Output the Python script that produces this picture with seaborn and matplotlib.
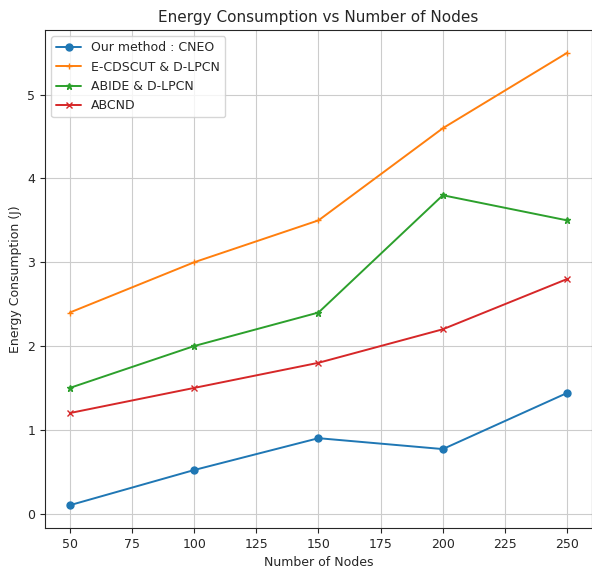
import matplotlib
matplotlib.use("Agg")
import matplotlib.pyplot as plt
import seaborn as sns
import pandas as pd

nodes = [50, 100, 150, 200, 250]
cneo = [0.1, 0.52, 0.9, 0.77, 1.44]
ecdscut = [2.4, 3.0, 3.5, 4.6, 5.5]
abide = [1.5, 2.0, 2.4, 3.8, 3.5]
abcnd = [1.2, 1.5, 1.8, 2.2, 2.8]
labels = ["Our method : CNEO", "E-CDSCUT & D-LPCN", "ABIDE & D-LPCN", "ABCND"]
markers = ["o", "+", "*", "x"]
colors = ["#1f77b4", "#ff7f0e", "#2ca02c", "#d62728"]

sns.set_style("ticks")
plt.rcParams['font.family'] = ['DejaVu Sans']

rows = []
for lab, vals in zip(labels, [cneo, ecdscut, abide, abcnd]):
    for n, v in zip(nodes, vals):
        rows.append({"Nodes": n, "Energy": v, "Method": lab})
df = pd.DataFrame(rows)

fig, ax = plt.subplots(figsize=(5.92, 5.7), dpi=100)
for lab, m, c in zip(labels, markers, colors):
    sub = df[df["Method"] == lab]
    sns.lineplot(data=sub, x="Nodes", y="Energy", marker=m, color=c, label=lab,
                 ax=ax, linewidth=1.4, markersize=5, markeredgecolor=c, mew=1.0)

ax.grid(True, color="#cccccc", linewidth=0.8)
ax.set_xticks([50, 75, 100, 125, 150, 175, 200, 225, 250])
ax.set_title("Energy Consumption vs Number of Nodes", fontsize=11)
ax.set_xlabel("Number of Nodes", fontsize=9)
ax.set_ylabel("Energy Consumption (J)", fontsize=9)
ax.tick_params(labelsize=9)
ax.legend(loc="upper left", fontsize=9)
for s in ax.spines.values():
    s.set_visible(True)
fig.subplots_adjust(left=0.076, right=1.0, top=0.947, bottom=0.074)
fig.savefig("out.png", dpi=100)
